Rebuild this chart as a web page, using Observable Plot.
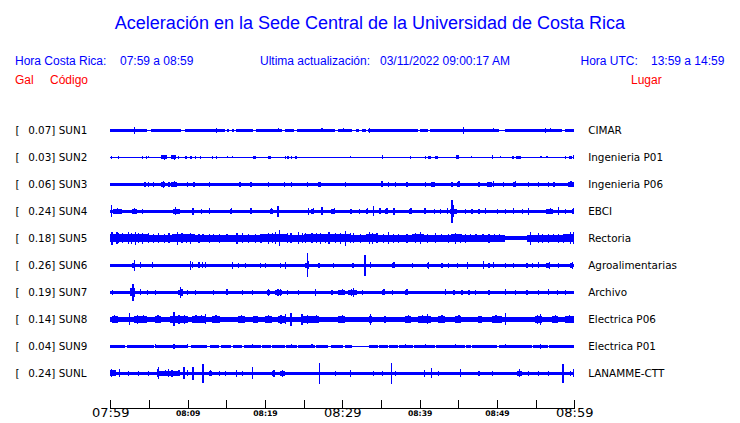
<!DOCTYPE html>
<html><head><meta charset="utf-8">
<script src="https://cdn.jsdelivr.net/npm/d3@7"></script>
<script src="https://cdn.jsdelivr.net/npm/@observablehq/plot@0.6"></script>
<style>
body{margin:0;background:#fff}
#wrap{position:relative;width:740px;height:423px;overflow:hidden}
#wrap svg{position:absolute;left:0;top:0}
.h{position:absolute;font-family:"Liberation Sans",Arial,sans-serif;font-size:12px;line-height:1;white-space:pre;color:#0000ff}
.r{color:#ff0000}
.t{font-size:18px;width:740px;text-align:center;left:0}
</style></head><body>
<div id="wrap">
  <div class="h t" style="top:13.5px">Aceleración en la Sede Central de la Universidad de Costa Rica</div>
  <div class="h" style="left:15px;top:55px">Hora Costa Rica:</div>
  <div class="h" style="left:120px;top:55px">07:59 a 08:59</div>
  <div class="h" style="left:260px;top:55px">Ultima actualización:</div>
  <div class="h" style="left:380px;top:55px">03/11/2022 09:00:17 AM</div>
  <div class="h" style="left:580.5px;top:55px">Hora UTC:</div>
  <div class="h" style="left:651px;top:55px">13:59 a 14:59</div>
  <div class="h r" style="left:15px;top:74px">Gal</div>
  <div class="h r" style="left:50px;top:74px">Código</div>
  <div class="h r" style="left:631px;top:74px">Lugar</div>
</div>
<script>
// ---- data ----
const stations = ["SUN1","SUN2","SUN3","SUN4","SUN5","SUN6","SUN7","SUN8","SUN9","SUNL"];
const places = ["CIMAR","Ingenieria P01","Ingenieria P06","EBCI","Rectoria","Agroalimentarias","Archivo","Electrica P06","Electrica P01","LANAMME-CTT"];
const peakGal = [0.07,0.03,0.06,0.24,0.18,0.26,0.19,0.14,0.04,0.24];
// typical half-amplitude of each trace (relative units, 27 = row spacing)
const baseAmp = [1.3,0.5,1.7,1.7,3.3,1.7,1.7,2.7,1.3,1.7];
// stretches (minutes after 07:59) where the trace is quieter
const quietAmp = [0.5,0.5,0.5,0.5,2.0,0.5,0.5,0.5,0.5,0.5];
const quiet = [
  [[4.7,5.2],[9.1,9.7],[14.8,15.1],[15.4,15.7],[16.0,16.3],[18.5,18.8],[22.2,22.6],[23.7,24.1],[29.0,29.5],[31.2,31.8],[32.2,32.6],[33.0,33.3],[39.8,40.0],[41.1,41.3],[50.2,51.0],[58.4,58.8]],
  [],[],[],
  [[51.0,53.9]],
  [],[],[],
  [[1.9,2.1],[5.6,5.8],[10.1,10.4],[12.5,12.9],[14.0,14.3],[15.6,15.9],[17.0,17.25],[19.5,19.6],[20.8,20.9],[22.6,22.7],[24.1,24.3],[26.5,26.6],[28.2,28.6],[30.1,30.3],[31.2,33.4],[34.6,34.7],[35.9,36.0],[37.2,37.3],[39.2,39.3],[42.0,42.1],[43.5,43.6],[45.9,46.0],[46.7,46.8],[48.4,48.5],[50.0,50.2],[52.8,52.9],[54.5,54.6],[56.6,56.7],[58.1,58.2]],
  []
];
// bursts: [minute after 07:59, half-amplitude, duration in minutes (optional)]
const events = [
  [[0.1,1.8,1.8],[2.5,1.8,2.2],[3.0,3.3],[5.5,1.6,1.0],[13.2,1.6,1.0],[13.7,2.3],[21.7,2],[26.8,1.6,0.8],[27.3,2],[30.1,2],[33.4,2.3],[45.2,1.6,1.2],[45.6,3.5],[49.5,2],[55.9,1.6,1.2],[56.2,2.3],[56.8,2]],
  [[0.1,1.5],[0.95,1.2],[4.05,1.2],[4.6,1.5],[4.9,1],[6.6,2,0.7],[6.9,2.5],[7.9,2,0.55],[8.2,2.5],[8.7,1.5],[9.65,1.8,0.25],[10.3,1.8,0.3],[10.95,1.2],[11.6,1.2],[13.1,1.2],[13.65,1.5],[15.1,1],[15.7,1],[18.5,1.8,0.4],[20.4,1.8,0.35],[22.6,1.2],[22.9,1.5],[23.4,1.5],[23.9,1.8,0.3],[31.0,1],[35.1,2,0.2],[38.7,1.5],[40.7,1.5],[41.1,1.8,0.4],[42.0,1.8,0.4],[44.7,2,0.45],[46.6,1],[49.3,2,0.25],[50.4,1],[52.0,1.8,0.2],[52.5,1.8,0.6],[55.6,1],[56.4,1],[58.8,1.5],[59.35,1.8,0.3],[59.8,2,0.2]],
  [[4.4,2.5],[4.9,2.5],[5.5,2.3],[6.6,2.4,0.5],[6.8,3.7],[7.5,2.5],[7.9,2.4,0.7],[8.2,3],[9.9,2.5],[10.7,2.4,0.25],[12.7,2.5],[16.7,2.5],[18.1,2.5],[20.4,2.5],[22.4,2.3],[23.4,2.5],[25.4,2.3],[26.9,2.2,0.4],[30.3,2.8],[35.0,3,0.2],[35.9,2.3],[36.8,2.3],[38.3,2.3],[40.7,2.3],[41.5,2.3,0.5],[44.1,2.7],[44.8,2.4,0.4],[45.0,3],[47.6,2.3],[48.7,2.3,0.6],[49.5,3],[50.8,2.7],[52.1,2.4,0.4],[52.3,3],[54.0,2.3],[55.3,2.3],[56.6,2.3],[57.3,2.5],[59.2,2.4,0.7],[59.5,3]],
  [[0.1,6],[0.4,2.4,1.1],[0.9,3],[2.75,2.4,0.65],[3.0,3],[4.1,2.7],[8.1,2.6,0.9],[8.4,4],[10.6,3.7],[11.7,2.7],[12.75,3],[15.5,2.4,0.3],[15.6,3],[18.1,3],[20.7,2.4,0.3],[20.8,3],[21.6,5.5],[25.5,3.7],[26.0,2.4,0.4],[26.2,3],[27.3,4],[28.6,2.4,0.45],[28.9,3],[31.0,2.4,0.3],[32.1,2.5],[33.1,2.4,0.25],[33.2,3],[34.0,5],[34.8,3],[35.5,2.4,0.4],[35.7,3],[36.6,3.5],[38.6,2.4,0.3],[38.8,3],[40.5,2.4,0.3],[40.6,3],[41.8,2.7],[42.6,2.7],[43.5,3],[43.9,2.8,0.9],[44.3,6],[44.1,11.3],[45.9,2.7],[46.7,2.7],[47.6,2.7],[48.4,3],[50.0,2.7],[51.0,2.7],[52.1,3],[53.2,2.7],[54.0,3.7],[56.4,2.4,0.9],[56.8,3],[57.9,4],[58.8,2.7],[59.65,2.4,0.35],[59.8,3]],
  [[0,3.9,5],[8,3.9,3],[19.5,3.9,3.5],[25,3.9,6],[33,3.9,1.5],[39,3.9,1.5],[44,3.9,1.5],[58.5,4.0,1.5],
   [0.15,6.5],[0.8,6],[1.0,5],[1.45,5],[2.3,6],[2.7,5.5],[3.2,6.5],[3.6,5],[4.05,5.5],[4.9,5],[5.5,4.5],[6.2,5],[6.9,4.5],[7.5,5],[8.6,6.5],[9.2,5],[9.8,4.5],[10.3,5.5],[11.4,4.5],[11.9,4],[12.7,4.5],[13.3,4],[14.0,4.5],[15.0,4],[16.3,5.5],[17.0,5],[17.8,4.5],[18.7,4.5],[19.4,4.5],[20.4,5.5],[20.9,5],[21.3,6],[21.8,8],[22.8,5],[23.3,5],[24.3,6],[24.8,5],[25.2,5],[26.0,5],[26.6,5],[27.1,5.5],[27.7,4.5],[28.2,6],[29.05,5],[29.7,5.5],[30.3,7.5],[31.0,5],[31.4,5],[32.3,4.5],[33.4,6],[33.8,5.5],[34.4,5],[35.2,4.5],[35.9,6],[36.5,4.5],[37.2,4.5],[38.3,4.5],[39.4,5],[40.0,6],[40.9,4.5],[42.0,5],[42.7,4],[43.7,4.5],[44.6,5.5],[45.2,4.5],[45.9,4.5],[46.5,4],[47.2,4],[48.1,4],[48.9,4.5],[49.6,4],[50.2,4],[54.3,6.5],[55.3,5],[55.8,4.5],[56.6,4.5],[57.2,4],[57.9,4.5],[58.5,4.5],[59.4,6],[59.85,6]],
  [[2.85,2.6,0.35],[3.0,5.8],[3.85,3],[5.35,3],[10.3,4.5],[10.5,3],[11.4,3],[11.8,3],[12.2,3],[15.7,3.5],[16.5,2.7],[17.4,2.7],[19.35,2.7],[20.0,2.7],[21.9,2.7],[22.6,3.5],[25.2,2.8,0.4],[25.5,4],[25.4,12],[26.9,2.7],[28.8,2.7],[31.3,2.7],[32.85,10.5],[33.6,3],[36.4,2.4,0.4],[36.6,3],[39.0,2.7],[40.9,2.4,0.3],[41.1,3.5],[42.8,2.7],[43.7,2.7],[44.8,2.7],[46.1,3.5],[48.2,4],[48.9,2.7],[49.5,3],[51.0,2.7],[52.1,2.7],[53.8,2.7],[54.5,2.7],[55.3,3],[56.4,2.5,0.45],[56.7,3.5],[57.9,2.7],[59.4,2.5,0.45],[59.7,3.5]],
  [[0.17,2.7],[2.5,2.8,0.7],[2.6,4],[2.85,8.3],[3.0,4.5],[3.85,3],[4.7,2.7],[5.8,2.7],[8.8,2.6,0.5],[9.0,5.5],[9.2,3.5],[9.9,2.7],[10.95,2.7],[13.3,2.7],[15.0,3],[17.0,2.7],[18.3,2.7],[20.2,2.5,0.4],[20.4,3.5],[21.3,2.6,0.85],[21.6,3.5],[21.9,3.5],[22.8,2.7],[24.3,2.7],[26.5,3.5],[28.6,2.7],[29.5,2.4,0.8],[29.9,3],[30.8,2.6,1.05],[31.4,4.5],[31.1,3.5],[32.5,2.7],[35.1,2.4,0.4],[35.3,3],[36.4,2.7],[38.1,2.4,0.4],[38.3,3],[43.3,3],[44.35,2.7],[45.4,2.7],[46.3,2.7],[47.15,2.7],[48.9,2.7],[51.0,3],[52.3,2.7],[53.8,2.7],[55.3,2.7],[56.6,3],[57.7,2.7],[58.8,2.7]],
  [[0.2,3.3,0.8],[3.0,3.3,1.7],[5.8,3.3,0.8],[7.7,3.6,2.3],[10.5,3.2,1.8],[13.1,3.3,1.1],[16.5,3.2,0.9],[18.5,3.2,0.65],[20.0,3.3,0.9],[21.7,3.6,0.9],[24.8,3.6,1.5],[26.3,3.3,0.7],[29.5,3.3,0.8],[33.4,3.6,0.4],[35.4,3.3,0.3],[38.1,3.3,0.8],[39.8,3.3,1.7],[42.4,3.3,0.9],[44.6,3.3,0.8],[47.6,3.3,0.4],[49.3,3.3,1.3],[54.9,3.8,0.9],[57.1,3.3,0.8],[58.8,3.3,1.1],
   [0.5,4],[2.4,6],[3.4,4.3],[4.2,4],[6.1,4],[8.15,7],[8.8,4.5],[9.5,4.5],[11.0,4],[11.7,4],[12.2,5],[13.6,4],[16.9,4],[20.4,4],[22.0,4.5],[22.6,5],[23.3,6.5],[24.7,5.5],[25.4,4.5],[26.6,4],[29.9,4],[33.6,5.5],[38.5,4],[40.3,4],[40.9,5],[42.8,4],[45.0,4],[49.8,4],[51.0,6],[55.2,4.5],[55.55,5.5],[57.5,4],[59.3,4]],
  [[5.8,2],[8.15,2.7],[9.9,2],[18.3,2],[23.4,2],[26.0,2],[38.1,2],[40.7,2],[44.6,2],[51.0,2],[55.55,2.3]],
  [[0.0,3,0.7],[0.05,4],[1.1,4],[2.25,2.7],[3.6,2.7],[4.9,2.7],[6.0,2.5,3.0],[6.0,4],[6.2,6],[7.1,3],[7.4,4],[7.9,3.5],[8.4,2.7],[8.8,3],[9.45,6],[9.9,3],[10.6,6.5],[11.9,9.3],[12.7,2.5,0.4],[12.9,3],[14.0,2.7],[14.8,2.7],[16.2,3.5],[17.0,2.7],[18.3,6],[20.9,2.5,0.45],[21.1,3.5],[21.9,2.5,0.7],[22.2,3.5],[27.0,10.8],[29.05,2.7],[31.0,3.5],[34.0,2.7],[35.1,2.7],[36.3,10.8],[36.8,2.7],[40.5,3.5],[41.5,5],[42.4,2.7],[45.2,4],[47.6,2.7],[49.3,2.7],[52.6,2.5,0.6],[52.8,4],[54.0,2.7],[55.3,2.7],[56.6,2.7],[58.45,9.7],[59.4,2.7],[59.85,4]]
];
const tickMinutes = [0,5,10,15,20,25,30,35,40,45,50,55,60];
const labelMinutes = [0,10,20,30,40,50,60];
const labelTexts = ["07:59","08:09","08:19","08:29","08:39","08:49","08:59"];
const labelBig = [true,false,false,true,false,false,true];

// ---- build mark tables ----
const rowUnits = 27; // amplitude units per row
const spanStart = tickMinutes[0], spanEnd = tickMinutes[tickMinutes.length - 1];
const rects = [];
stations.forEach((s, i) => {
  const q = quiet[i].slice().sort((a, b) => a[0] - b[0]);
  let cur = spanStart;
  for (const [a, b] of q) {
    if (a > cur) rects.push({i, x1: cur, x2: a, amp: baseAmp[i]});
    rects.push({i, x1: a, x2: b, amp: quietAmp[i]});
    cur = Math.max(cur, b);
  }
  if (cur < spanEnd) rects.push({i, x1: cur, x2: spanEnd, amp: baseAmp[i]});
  for (const [m, a, w] of events[i]) {
    rects.push({i, x1: m, x2: Math.min(spanEnd, m + (w ?? 0.16)), amp: a});
  }
});
rects.forEach(r => { r.y1 = r.i - r.amp / rowUnits; r.y2 = r.i + r.amp / rowUnits; });

const rows = stations.map((s, i) => ({i, s, place: places[i], peak: peakGal[i]}));
const labels = labelMinutes.map((m, k) => ({m, t: labelTexts[k], big: labelBig[k]}));

const W = 740, H = 423, mL = 110.3, mR = 165.7, mT = 100, mB = 13.7;
const frameH = H - mT - mB;

const chart = Plot.plot({
  width: W, height: H,
  marginLeft: mL, marginRight: mR, marginTop: mT, marginBottom: mB,
  x: {domain: [spanStart, spanEnd], axis: null},
  y: {domain: [0, stations.length - 1], range: [130.3, 373.3], axis: null},
  style: {fontFamily: "'DejaVu Sans', sans-serif", background: "white"},
  marks: [
    Plot.rect(rects, {x1: "x1", x2: "x2", y1: "y1", y2: "y2", fill: "#0000ff", shapeRendering: "crispEdges"}),
    Plot.rect([{a: spanStart, b: spanEnd}], {x1: "a", x2: "b", fill: "black", insetTop: frameH - 1, shapeRendering: "crispEdges"}),
    Plot.ruleX(tickMinutes, {x: d => d, stroke: "black", insetTop: frameH - 9, shapeRendering: "crispEdges"}),
    Plot.text(labels.filter(d => d.big), {x: "m", text: "t", frameAnchor: "bottom", dy: 7.5, fontSize: 13, fill: "black"}),
    Plot.text(labels.filter(d => !d.big), {x: "m", text: "t", frameAnchor: "bottom", dy: 6, fontSize: 7.7, fontWeight: "bold", fill: "black"}),
    Plot.text(rows, {y: "i", text: () => "[", frameAnchor: "left", textAnchor: "start", dx: 15 - mL, fontSize: 10.4, fill: "black"}),
    Plot.text(rows, {y: "i", text: d => `${d.peak.toFixed(2)}] ${d.s}`, frameAnchor: "left", textAnchor: "start", dx: 27.7 - mL, fontSize: 10.4, fill: "black"}),
    Plot.text(rows, {y: "i", text: "place", frameAnchor: "right", textAnchor: "start", dx: 13.4, fontSize: 10.4, fill: "black"})
  ]
});
document.getElementById("wrap").prepend(chart);
</script>
</body></html>
